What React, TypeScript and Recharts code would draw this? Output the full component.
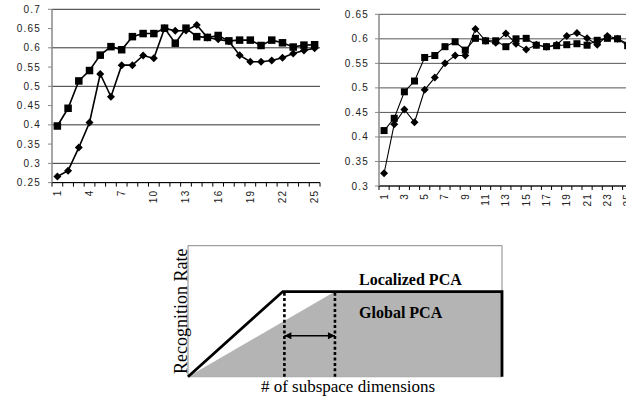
import React from 'react';
import {
  LineChart, Line, XAxis, YAxis, CartesianGrid,
  ComposedChart, Area, ReferenceLine, ReferenceArea, ReferenceDot,
} from 'recharts';

// subspace dimensions on both top charts
const dimensions = ['1', '2', '3', '4', '5', '6', '7', '8', '9', '10', '11', '12', '13',
  '14', '15', '16', '17', '18', '19', '20', '21', '22', '23', '24', '25'];

// left chart (squares = localized, diamonds = global)
const leftLocalized = [0.397, 0.443, 0.514, 0.541, 0.581, 0.603, 0.595, 0.629, 0.637, 0.637, 0.651, 0.612, 0.651,
  0.629, 0.627, 0.632, 0.618, 0.62, 0.62, 0.606, 0.62, 0.613, 0.602, 0.607, 0.608];
const leftGlobal = [0.266, 0.281, 0.341, 0.406, 0.532, 0.473, 0.555, 0.555, 0.58, 0.573, 0.651, 0.644, 0.645,
  0.659, 0.627, 0.622, 0.617, 0.581, 0.564, 0.564, 0.567, 0.574, 0.585, 0.593, 0.599];
const leftTicks = [0.25, 0.3, 0.35, 0.4, 0.45, 0.5, 0.55, 0.6, 0.65, 0.7];

// right chart
const rightLocalized = [0.413, 0.438, 0.492, 0.514, 0.562, 0.566, 0.584, 0.594, 0.577, 0.601, 0.596, 0.596, 0.584,
  0.6, 0.601, 0.587, 0.584, 0.586, 0.588, 0.59, 0.587, 0.597, 0.601, 0.6, 0.586];
const rightGlobal = [0.326, 0.426, 0.456, 0.43, 0.496, 0.521, 0.55, 0.566, 0.566, 0.62, 0.596, 0.592, 0.611,
  0.59, 0.578, 0.588, 0.584, 0.588, 0.606, 0.612, 0.601, 0.588, 0.606, 0.6, 0.59];
const rightTicks = [0.3, 0.35, 0.4, 0.45, 0.5, 0.55, 0.6, 0.65];

// schematic: recognition rate vs # of subspace dimensions
const localizedPCA = [{ dim: 0, rate: 0 }, { dim: 30.2, rate: 65 }, { dim: 100, rate: 65 }, { dim: 100, rate: 0 }];
const globalPCA = [{ dim: 0, rate: 0 }, { dim: 46.8, rate: 65 }, { dim: 100, rate: 65 }];
const gapMarkers = [30.7, 46.8];
const gapArrow = [{ dim: 30.7, rate: 31.3 }, { dim: 46.8, rate: 31.3 }];

const SANS = '"Liberation Sans", Arial, sans-serif';
const SERIF = '"Liberation Serif", "Times New Roman", serif';

const toRows = (a: number[], b: number[]) =>
  dimensions.map((d, i) => ({ dim: d, localized: a[i], global: b[i] }));

const squareDot = (size: number) => (props: any) => {
  const { cx, cy, index } = props;
  return <rect key={`s-${index}`} x={cx - size / 2} y={cy - size / 2} width={size} height={size} fill="#000" />;
};

const diamondDot = (r: number) => (props: any) => {
  const { cx, cy, index } = props;
  return (
    <polygon
      key={`d-${index}`}
      points={`${cx},${cy - r} ${cx + r},${cy} ${cx},${cy + r} ${cx - r},${cy}`}
      fill="#000"
    />
  );
};

// excel-like category ticks: marks between categories, rotated labels every `step`
const categoryTick = (step: number, half: number) => (props: any) => {
  const { x, y, payload, index } = props;
  const ty = y + 7;
  return (
    <g>
      <line x1={x - half} y1={y} x2={x - half} y2={y + 4} stroke="#000" />
      {index === dimensions.length - 1 && <line x1={x + half} y1={y} x2={x + half} y2={y + 4} stroke="#000" />}
      {index % step === 0 && (
        <text
          x={x}
          y={ty}
          transform={`rotate(-90 ${x} ${ty})`}
          textAnchor="end"
          dominantBaseline="central"
          fontSize={10}
          letterSpacing={1.2}
          fontFamily={SANS}
          fill="#222"
        >
          {payload.value}
        </text>
      )}
    </g>
  );
};

const yTickStyle = { fontSize: 10, fill: '#222', fontFamily: SANS, letterSpacing: 1.2 };

const LeftChart = () => (
  <LineChart width={330} height={215} data={toRows(leftLocalized, leftGlobal)}
    margin={{ top: 9.3, right: 10, bottom: 0, left: 0 }}>
    <CartesianGrid vertical={false} stroke="#333" />
    <XAxis dataKey="dim" scale="band" interval={0} height={32.4} tickSize={0} tickMargin={0}
      tickLine={false} axisLine={{ stroke: '#000' }} tick={categoryTick(3, 268 / 25 / 2)} />
    <YAxis domain={[0.25, 0.7]} ticks={leftTicks} width={52} tickSize={4} tickMargin={7}
      axisLine={{ stroke: '#888', strokeWidth: 1.5 }} tickLine={{ stroke: '#888' }} tick={yTickStyle} />
    <YAxis yAxisId="frame" orientation="right" width={0} tick={false} tickLine={false}
      axisLine={{ stroke: '#999' }} />
    <Line dataKey="localized" stroke="#000" strokeWidth={1.6} dot={squareDot(7.5)} isAnimationActive={false} />
    <Line dataKey="global" stroke="#000" strokeWidth={1.6} dot={diamondDot(4)} isAnimationActive={false} />
  </LineChart>
);

const RightChart = () => (
  <LineChart width={312.75} height={218} data={toRows(rightLocalized, rightGlobal)}
    margin={{ top: 14.3, right: 0, bottom: 0, left: 0 }}>
    <CartesianGrid vertical={false} stroke="#555" />
    <XAxis dataKey="dim" scale="band" interval={0} height={32} tickSize={0} tickMargin={0}
      tickLine={false} axisLine={{ stroke: '#000' }} tick={categoryTick(2, 10.15 / 2)} />
    <YAxis domain={[0.3, 0.65]} ticks={rightTicks} width={59} tickSize={4} tickMargin={6}
      axisLine={{ stroke: '#888', strokeWidth: 1.5 }} tickLine={{ stroke: '#888' }} tick={yTickStyle} />
    <Line dataKey="localized" stroke="#000" strokeWidth={1.1} dot={squareDot(7)} isAnimationActive={false} />
    <Line dataKey="global" stroke="#000" strokeWidth={1.1} dot={diamondDot(4)} isAnimationActive={false} />
  </LineChart>
);

const arrowHead = (props: any) => {
  const { cx, cy, index } = props;
  const dir = index === 0 ? 1 : -1;
  return (
    <polygon key={`a-${index}`}
      points={`${cx},${cy} ${cx + dir * 7},${cy - 3.5} ${cx + dir * 7},${cy + 3.5}`} fill="#000" />
  );
};

const textStyle = { fontFamily: SERIF, fontSize: 17, fill: '#000' };

const Schematic = () => (
  <ComposedChart width={370} height={168} margin={{ top: 15.7, right: 28, bottom: 0, left: 14 }}>
    <XAxis dataKey="dim" type="number" domain={[0, 100]} tick={false} tickLine={false} axisLine={false}
      height={21.3} label={{ value: '# of subspace dimensions', position: 'insideBottom', offset: 6, dx: 3, style: textStyle }} />
    <YAxis dataKey="rate" type="number" domain={[0, 100]} tick={false} tickLine={false} axisLine={false}
      width={14} label={{ value: 'Recognition Rate', angle: -90, position: 'center', style: { ...textStyle, fontSize: 18 } }} />
    <ReferenceArea x1={0} x2={100} y1={0} y2={100} fill="none" stroke="#888" />
    <Area data={globalPCA} dataKey="rate" type="linear" fill="#b4b4b4" fillOpacity={1} stroke="none"
      isAnimationActive={false} />
    {gapMarkers.map((d) => (
      <ReferenceLine key={d} segment={[{ x: d, y: 0 }, { x: d, y: 65 }]} stroke="#000" strokeWidth={2.6}
        strokeDasharray="3 2.4" />
    ))}
    <Line data={gapArrow} dataKey="rate" type="linear" stroke="#000" strokeWidth={1.4} dot={arrowHead}
      isAnimationActive={false} />
    <Line data={localizedPCA} dataKey="rate" type="linear" stroke="#000" strokeWidth={2.8} dot={false}
      isAnimationActive={false} />
    <ReferenceDot x={52.9} y={74.6} r={0} fill="none" stroke="none"
      label={{ value: 'Localized PCA', position: 'right', style: { ...textStyle, fontSize: 16, fontWeight: 'bold' } }} />
    <ReferenceDot x={52.9} y={49} r={0} fill="none" stroke="none"
      label={{ value: 'Global PCA', position: 'right', style: { ...textStyle, fontSize: 16, fontWeight: 'bold' } }} />
  </ComposedChart>
);

export default function App() {
  return (
    <div style={{ position: 'absolute', left: 0, top: 0, width: 626, height: 398, overflow: 'hidden', background: '#fff' }}>
      <div style={{ position: 'absolute', left: 0, top: 0 }}>
        <LeftChart />
      </div>
      <div style={{ position: 'absolute', left: 320, top: 0 }}>
        <RightChart />
      </div>
      <div style={{ position: 'absolute', left: 160, top: 230 }}>
        <Schematic />
      </div>
    </div>
  );
}
